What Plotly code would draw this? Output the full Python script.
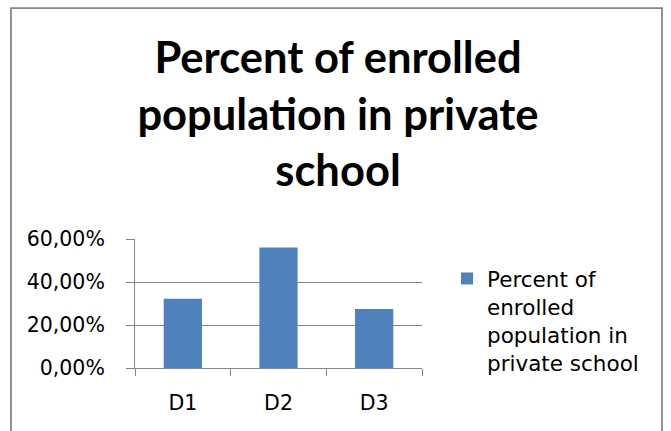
import plotly.graph_objects as go

# Chart data
districts = ["D1", "D2", "D3"]
private_share = [0.322, 0.560, 0.274]
series_name = "Percent of<br>enrolled<br>population in<br>private school"
title_text = "Percent of enrolled<br>population in private<br>school"

W, H = 671, 431
# plot area in pixels
L, R, T, B = 135, 249, 239, 63
pw, ph = W - L - R, H - T - B


def px_x(x):
    return (x - L) / pw


def px_y(y):
    return (H - B - y) / ph


grey = "#868686"
small_font = dict(family="DejaVu Sans", size=20.5, color="#000000")
legend_font = dict(family="DejaVu Sans", size=21.5, color="#000000")

fig = go.Figure()
fig.add_trace(go.Bar(
    x=districts,
    y=private_share,
    name=series_name,
    marker=dict(color="#4F81BD", line=dict(width=0)),
    width=0.4,
    showlegend=True,
))

fig.update_layout(
    width=W,
    height=H,
    margin=dict(l=L, r=R, t=T, b=B, pad=0),
    paper_bgcolor="#FFFFFF",
    plot_bgcolor="#FFFFFF",
    separators=",.",
    title=dict(
        text=title_text,
        font=dict(family="Lato", size=43.5, color="#000000", weight="bold"),
        x=338 / W,
        xanchor="center",
        xref="container",
        y=1 - 73 / H,
        yanchor="top",
        yref="container",
    ),
    xaxis=dict(
        type="category",
        showgrid=False,
        showline=True,
        linecolor=grey,
        linewidth=1,
        ticks="outside",
        tickson="boundaries",
        ticklen=7,
        tickcolor=grey,
        tickwidth=1,
        tickfont=small_font,
        ticklabelstandoff=16,
        fixedrange=True,
    ),
    yaxis=dict(
        range=[0, 0.6],
        dtick=0.2,
        tick0=0,
        tickformat=".2%",
        showgrid=True,
        gridcolor=grey,
        gridwidth=1,
        zeroline=False,
        showline=True,
        linecolor=grey,
        linewidth=1,
        ticks="outside",
        ticklen=8,
        tickcolor=grey,
        tickwidth=1,
        tickfont=small_font,
        ticklabelstandoff=17,
        fixedrange=True,
    ),
    legend=dict(
        x=px_x(447),
        xanchor="left",
        y=px_y(258),
        yanchor="top",
        valign="top",
        bgcolor="rgba(0,0,0,0)",
        font=legend_font,
    ),
    shapes=[
        dict(
            type="rect",
            xref="paper",
            yref="paper",
            x0=px_x(11),
            x1=px_x(662),
            y0=px_y(445),
            y1=px_y(8),
            line=dict(color=grey, width=1.75),
            fillcolor="rgba(0,0,0,0)",
            layer="below",
        )
    ],
)

fig.write_html("out.html")
